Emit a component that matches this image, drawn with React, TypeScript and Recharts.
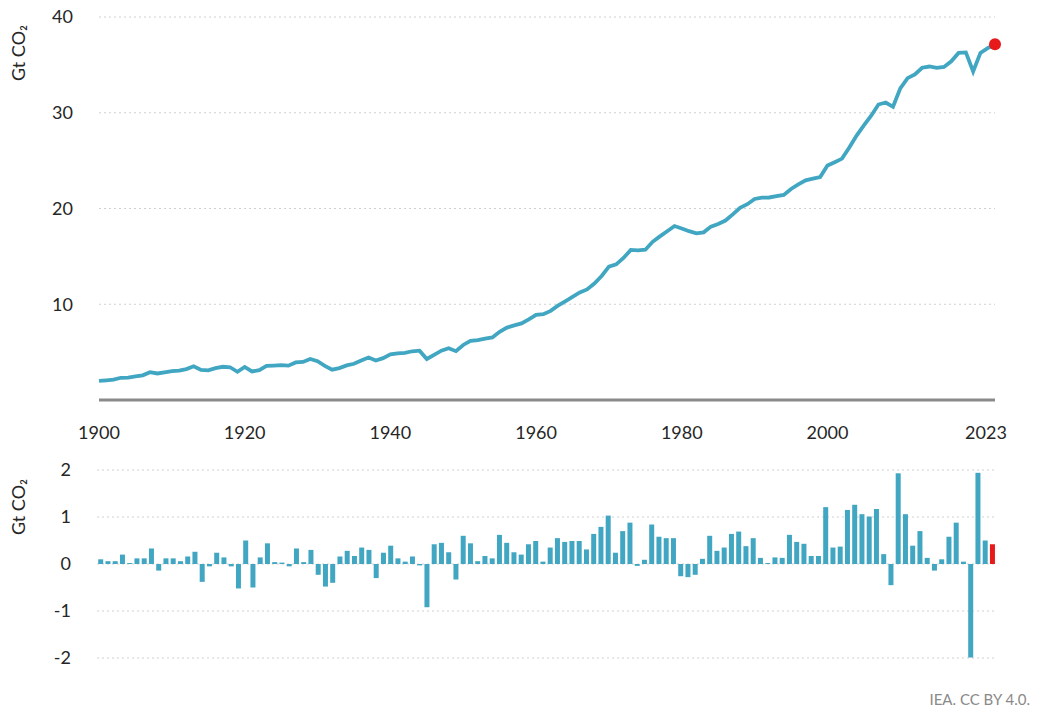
import { LineChart, Line, XAxis, YAxis, CartesianGrid, ReferenceDot, BarChart, Bar, Cell } from 'recharts';

// Global CO2 emissions, Gt CO2, 1900-2023
const emissions = [
  2.0, 2.06, 2.12, 2.32, 2.34, 2.46, 2.58, 2.91, 2.77, 2.89,
  3.01, 3.07, 3.23, 3.52, 3.14, 3.09, 3.33, 3.47, 3.42, 2.95,
  3.45, 2.98, 3.12, 3.56, 3.6, 3.64, 3.59, 3.92, 3.97, 4.28,
  4.05, 3.57, 3.17, 3.33, 3.61, 3.78, 4.13, 4.43, 4.13, 4.37,
  4.76, 4.88, 4.93, 5.09, 5.15, 4.28, 4.72, 5.15, 5.4, 5.1,
  5.75, 6.18, 6.26, 6.42, 6.54, 7.13, 7.56, 7.8, 8.0, 8.42,
  8.9, 8.96, 9.31, 9.85, 10.31, 10.78, 11.24, 11.55, 12.17, 12.95,
  13.93, 14.16, 14.83, 15.68, 15.62, 15.7, 16.52, 17.09, 17.63, 18.17,
  17.91, 17.63, 17.4, 17.51, 18.11, 18.39, 18.74, 19.38, 20.07, 20.45,
  21.0, 21.13, 21.15, 21.29, 21.42, 22.04, 22.51, 22.94, 23.11, 23.28,
  24.49, 24.84, 25.21, 26.36, 27.62, 28.68, 29.69, 30.86, 31.07, 30.62,
  32.55, 33.61, 34.0, 34.7, 34.83, 34.69, 34.79, 35.37, 36.25, 36.3,
  34.31, 36.25, 36.75, 37.15,
];

// Annual change, Gt CO2
const changes = [
  0.1, 0.06, 0.06, 0.2, 0.02, 0.12, 0.12, 0.33, -0.14, 0.12,
  0.12, 0.06, 0.16, 0.26, -0.38, -0.05, 0.24, 0.14, -0.05, -0.52,
  0.5, -0.5, 0.14, 0.44, 0.04, 0.03, -0.05, 0.33, 0.04, 0.3,
  -0.23, -0.48, -0.4, 0.16, 0.28, 0.17, 0.35, 0.3, -0.3, 0.24,
  0.39, 0.12, 0.05, 0.16, -0.03, -0.92, 0.42, 0.45, 0.25, -0.33,
  0.6, 0.44, 0.06, 0.17, 0.12, 0.62, 0.45, 0.25, 0.2, 0.42,
  0.49, 0.05, 0.35, 0.55, 0.47, 0.49, 0.49, 0.31, 0.64, 0.79,
  1.03, 0.24, 0.7, 0.88, -0.04, 0.09, 0.84, 0.58, 0.55, 0.55,
  -0.26, -0.28, -0.23, 0.11, 0.6, 0.28, 0.35, 0.64, 0.69, 0.38,
  0.55, 0.13, 0.02, 0.14, 0.13, 0.62, 0.47, 0.43, 0.17, 0.17,
  1.21, 0.35, 0.37, 1.15, 1.26, 1.06, 1.01, 1.17, 0.21, -0.45,
  1.93, 1.06, 0.39, 0.7, 0.13, -0.14, 0.1, 0.58, 0.88, 0.05,
  -1.99, 1.94, 0.5, 0.42,
];

const years = emissions.map((_, i) => 1900 + i);
const yearTicks = [1900, 1920, 1940, 1960, 1980, 2000, 2023];
const levelTicks = [10, 20, 30, 40];
const changeTicks = [-2, -1, 0, 1, 2];

const lineData = years.map((year, i) => ({ year, value: emissions[i] }));
const barData = years.map((year, i) => ({ year, value: changes[i] }));

const teal = '#41a6c1';
const red = '#e8191b';
const font = 'Lato, "Open Sans", sans-serif';
const tickStyle = { fill: '#262626', fontSize: 18, fontFamily: font };

const lastYear = years[years.length - 1];
const lastValue = emissions[emissions.length - 1];

// last year label sits a little left of its point in the original
function YearTick(props: any) {
  const { x, y, payload } = props;
  const dx = payload.value === lastYear ? -9 : 0;
  return (
    <text x={x + dx} y={y} dy={19} textAnchor="middle" {...tickStyle}>
      {payload.value}
    </text>
  );
}

function AxisTitle({ top }: { top: number }) {
  return (
    <div
      style={{
        position: 'absolute',
        left: 18,
        top,
        transform: 'translate(-50%, -50%) rotate(-90deg)',
        fontFamily: font,
        fontSize: 18,
        color: '#262626',
        whiteSpace: 'nowrap',
      }}
    >
      Gt CO₂
    </div>
  );
}

export default function App() {
  return (
    <div style={{ position: 'absolute', left: 0, top: 0, width: 1042, height: 716, background: '#fff', overflow: 'hidden' }}>
      <div style={{ position: 'absolute', left: 0, top: 0 }}>
        <LineChart width={1042} height={450} data={lineData} margin={{ top: 17, right: 47, left: 39, bottom: 0 }}>
          <CartesianGrid vertical={false} stroke="#d0d0d0" strokeDasharray="2 3" />
          <XAxis
            dataKey="year"
            type="number"
            domain={[1900, 2023]}
            ticks={yearTicks}
            height={50}
            tickLine={false}
            tickSize={0}
            tickMargin={20}
            axisLine={{ stroke: '#8a8a8a', strokeWidth: 3 }}
            tick={<YearTick />}
          />
          <YAxis
            domain={[0, 40]}
            ticks={levelTicks}
            width={60}
            axisLine={false}
            tickLine={false}
            tickSize={0}
            tickMargin={26}
            tick={tickStyle}
          />
          <Line
            type="linear"
            dataKey="value"
            stroke={teal}
            strokeWidth={3.8}
            dot={false}
            isAnimationActive={false}
          />
          <ReferenceDot x={lastYear} y={lastValue} r={6} fill={red} stroke="none" />
        </LineChart>
      </div>
      <div style={{ position: 'absolute', left: 0, top: 450 }}>
        <BarChart
          width={1042}
          height={220}
          data={barData}
          margin={{ top: 20, right: 46, left: 37, bottom: 12 }}
          barCategoryGap={1.2}
        >
          <CartesianGrid vertical={false} stroke="#d0d0d0" strokeDasharray="2 3" />
          <XAxis dataKey="year" hide />
          <YAxis
            domain={[-2, 2]}
            ticks={changeTicks}
            width={60}
            axisLine={false}
            tickLine={false}
            tickSize={0}
            tickMargin={26}
            tick={tickStyle}
          />
          <Bar dataKey="value" isAnimationActive={false}>
            {barData.map((d, i) => (
              <Cell key={`c-${d.year}`} fill={i === barData.length - 1 ? red : teal} />
            ))}
          </Bar>
        </BarChart>
      </div>
      <AxisTitle top={53} />
      <AxisTitle top={507} />
      <div
        style={{
          position: 'absolute',
          right: 12,
          top: 690,
          fontFamily: font,
          fontSize: 15,
          color: '#8a8a8a',
        }}
      >
        IEA. CC BY 4.0.
      </div>
    </div>
  );
}
